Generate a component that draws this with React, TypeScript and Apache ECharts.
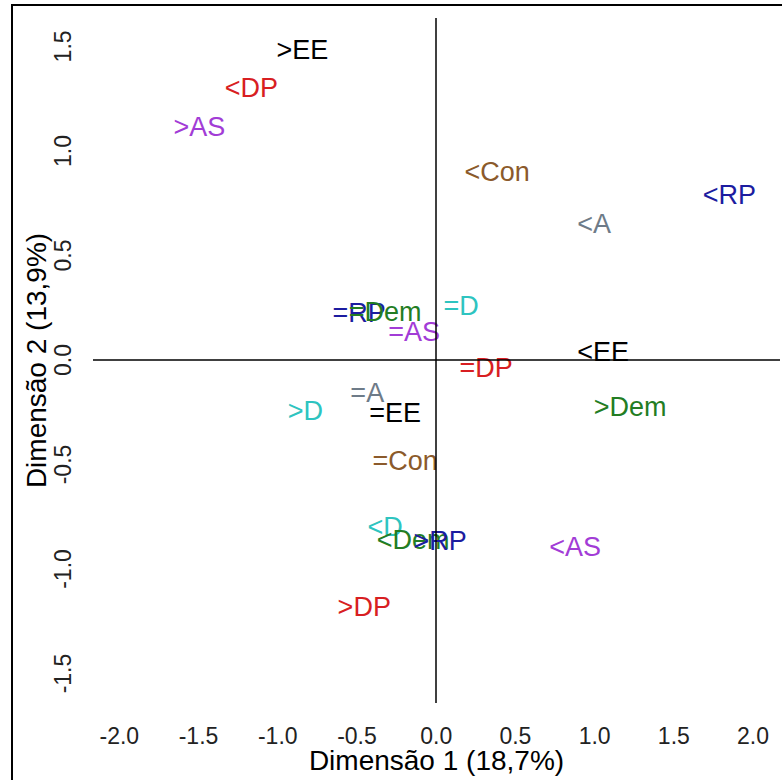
import React, { useEffect, useRef } from "react";
import * as echarts from "echarts";

// Category labels (modality of each variable)
const labels = [
  ">EE", "<DP", ">AS", "<Con", "<RP", "<A", "=D", "=RP", "=Dem", "=AS", "=DP",
  "<EE", "=A", ">D", "=EE", ">Dem", "=Con", "<D", "<Dem", ">RP", "<AS", ">DP",
];
// Dimension 1 coordinates
const dim1 = [
  -0.845, -1.167, -1.495, 0.385, 1.85, 0.997, 0.158, -0.486, -0.322, -0.139, 0.315,
  1.054, -0.435, -0.826, -0.259, 1.224, -0.196, -0.322, -0.145, 0.025, 0.877, -0.454,
];
// Dimension 2 coordinates
const dim2 = [
  1.483, 1.301, 1.115, 0.9, 0.79, 0.65, 0.258, 0.225, 0.23, 0.134, -0.038,
  0.038, -0.158, -0.244, -0.254, -0.225, -0.483, -0.8, -0.861, -0.866, -0.895, -1.182,
];
// Tick labels
const xTicks = [-2, -1.5, -1, -0.5, 0, 0.5, 1, 1.5, 2];
const yTicks = [-1.5, -1, -0.5, 0, 0.5, 1, 1.5];

const varColors: Record<string, string> = {
  EE: "#000000",
  DP: "#D81E22",
  AS: "#A23CD6",
  Con: "#8B5A2B",
  RP: "#1C1CA0",
  A: "#6E7B88",
  D: "#2EC4C0",
  Dem: "#237D23",
};

const FONT = "'Liberation Sans', Arial, sans-serif";

export default function App() {
  const ref = useRef<HTMLDivElement>(null);
  useEffect(() => {
    if (!ref.current) return;
    const chart = echarts.init(ref.current, undefined, { renderer: "svg" });
    const data = labels.map((l, i) => ({
      name: l,
      value: [dim1[i], dim2[i]],
      label: { color: varColors[l.slice(1)] },
    }));
    chart.setOption({
      animation: false,
      backgroundColor: "#ffffff",
      textStyle: { fontFamily: FONT },
      graphic: [
        {
          type: "rect",
          shape: { x: 12, y: 5, width: 800, height: 800 },
          style: { fill: "none", stroke: "#000", lineWidth: 2 },
          z: 100,
        },
      ],
      grid: {
        left: 93,
        right: 2,
        top: 18,
        bottom: 77,
        containLabel: false,
        outerBoundsMode: "none",
      },
      xAxis: {
        type: "value",
        min: -2.166,
        max: 2.17,
        name: "Dimensão 1 (18,7%)",
        nameLocation: "middle",
        nameGap: 43,
        nameMoveOverlap: false,
        nameTextStyle: { fontSize: 28, color: "#000", fontFamily: FONT },
        axisLine: { show: false },
        axisTick: { show: false },
        splitLine: { show: false },
        axisLabel: {
          customValues: xTicks,
          formatter: (v: number) => v.toFixed(1),
          fontSize: 23,
          color: "#222",
          margin: 21,
          fontFamily: FONT,
        },
      },
      yAxis: {
        type: "value",
        min: -1.641,
        max: 1.636,
        name: "Dimensão 2 (13,9%)",
        nameLocation: "middle",
        nameRotate: 90,
        nameGap: 43,
        nameMoveOverlap: false,
        nameTextStyle: { fontSize: 28, color: "#000", fontFamily: FONT },
        axisLine: { show: false },
        axisTick: { show: false },
        splitLine: { show: false },
        axisLabel: {
          customValues: yTicks,
          formatter: (v: number) => v.toFixed(1),
          rotate: 90,
          fontSize: 23,
          color: "#222",
          margin: 19,
          fontFamily: FONT,
        },
      },
      series: [
        {
          type: "scatter",
          symbolSize: 1,
          itemStyle: { color: "rgba(0,0,0,0)", opacity: 1 },
          data,
          label: {
            show: true,
            position: "inside",
            formatter: (p: any) => p.name,
            fontSize: 27,
            fontFamily: FONT,
          },
          markLine: {
            silent: true,
            symbol: "none",
            label: { show: false },
            lineStyle: { color: "#000", width: 1.5, type: "solid", opacity: 1 },
            data: [{ xAxis: 0 }, { yAxis: 0 }],
          },
        },
      ],
    });
    return () => chart.dispose();
  }, []);
  return (
    <div
      ref={ref}
      style={{ position: "fixed", left: 0, top: 0, width: 782, height: 780 }}
    />
  );
}
